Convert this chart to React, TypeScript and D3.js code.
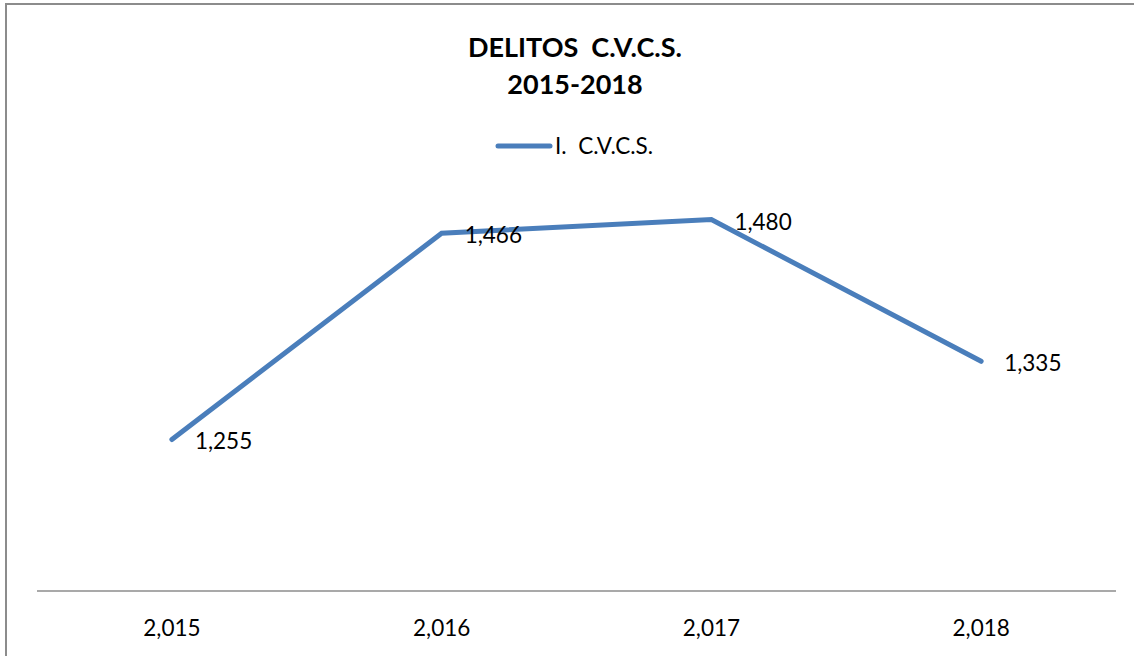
import React from "react";
import * as d3 from "d3";

const categories = ["2,015", "2,016", "2,017", "2,018"];
const values = [1255, 1466, 1480, 1335];
const seriesName = "I.  C.V.C.S.";
const titleLines = ["DELITOS  C.V.C.S.", "2015-2018"];
const yDomain = [1100, 1500];

const W = 1134;
const H = 656;
const FONT = "Lato, 'Open Sans', sans-serif";
const COLOR = "#4a7ebb";

export default function App() {
  const x = d3.scaleBand<string>().domain(categories).range([37, 1116]);
  const y = d3.scaleLinear().domain(yDomain).range([591, 200]);
  const fmt = d3.format(",");
  const pts = values.map((v, i) => [x(categories[i])! + x.bandwidth() / 2, y(v)] as [number, number]);
  const line = d3.line();

  return (
    <svg width={W} height={H} style={{ position: "absolute", left: 0, top: 0, background: "#fff", whiteSpace: "pre" }}>
      <rect x={6} y={4} width={W + 10} height={H + 10} fill="#fff" stroke="#8c8c8c" strokeWidth={2} />
      <g fontFamily={FONT} fontWeight="bold" fontSize={27} textAnchor="middle" fill="#000">
        {titleLines.map((t, i) => (
          <text key={i} x={575} y={57 + i * 37} style={{ whiteSpace: "pre" }}>{t}</text>
        ))}
      </g>
      <line x1={498} x2={550} y1={146} y2={146} stroke={COLOR} strokeWidth={5} strokeLinecap="round" />
      <text x={555} y={154} fontFamily={FONT} fontSize={22.5} fill="#000" style={{ whiteSpace: "pre" }}>{seriesName}</text>
      <line x1={37} x2={1116} y1={591} y2={591} stroke="#8c8c8c" strokeWidth={1.5} />
      {categories.map((c) => (
        <text key={c} x={x(c)! + x.bandwidth() / 2} y={636} textAnchor="middle" fontFamily={FONT} fontSize={22.5} fill="#000">{c}</text>
      ))}
      <path d={line(pts)!} fill="none" stroke={COLOR} strokeWidth={5} strokeLinejoin="miter" strokeLinecap="round" />
      {pts.map((p, i) => (
        <text key={i} x={p[0] + 23} y={p[1] + 10} fontFamily={FONT} fontSize={22.5} fill="#000">{fmt(values[i])}</text>
      ))}
    </svg>
  );
}
